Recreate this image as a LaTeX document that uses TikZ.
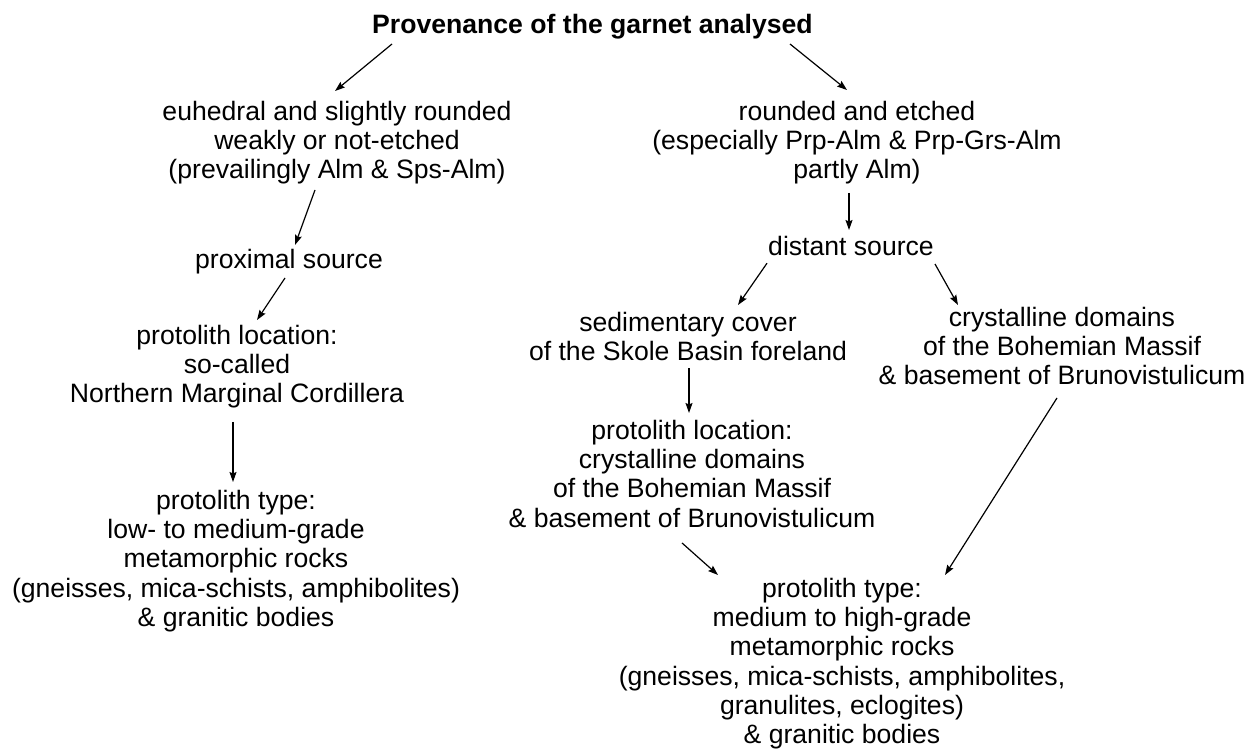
\documentclass[tikz,border=0pt]{standalone}
\usepackage{fontspec}
\setmainfont{Liberation Sans}
\usetikzlibrary{arrows.meta}
\begin{document}
\begin{tikzpicture}[x=1pt, y=-1pt, >={Stealth[length=10pt,width=7pt,inset=1.5pt]}, line width=1.2pt,
  txt/.style={align=center, inner sep=0pt, anchor=north, font=\fontsize{26.6}{29.3}\selectfont, execute at begin node=\strut, execute at end node=\strut},
  arr/.style={->}]
\useasboundingbox (0,0) rectangle (1249,749);
% title
\node[txt, font=\fontsize{26.6}{29.3}\selectfont\bfseries] (title) at (592.5,12.5) {Provenance of the garnet analysed};
% left branch
\node[txt] (euh) at (337,100.5) {euhedral and slightly rounded\\weakly or not-etched\\(prevailingly Alm \& Sps-Alm)};
\node[txt] (prox) at (289,247.5) {proximal source};
\node[txt] (locL) at (237,324.5) {protolith location:\\so-called\\Northern Marginal Cordillera};
\node[txt] (typeL) at (236,489.5) {protolith type:\\low- to medium-grade\\metamorphic rocks\\(gneisses, mica-schists, amphibolites)\\\& granitic bodies};
% right branch
\node[txt] (rnd) at (857,100.5) {rounded and etched\\(especially Prp-Alm \& Prp-Grs-Alm\\partly Alm)};
\node[txt] (dist) at (851,234.5) {distant source};
\node[txt] (sed) at (688,311.5) {sedimentary cover\\of the Skole Basin foreland};
\node[txt] (crysR) at (1062,306.5) {crystalline domains\\of the Bohemian Massif\\\& basement of Brunovistulicum};
\node[txt] (locM) at (692,419.5) {protolith location:\\crystalline domains\\of the Bohemian Massif\\\& basement of Brunovistulicum};
\node[txt] (typeR) at (842,577.5) {protolith type:\\medium to high-grade\\metamorphic rocks\\(gneisses, mica-schists, amphibolites,\\granulites, eclogites)\\\& granitic bodies};
% arrows
\draw[arr] ([xshift=-200.5pt,yshift=-1pt]title.south) -- ([xshift=-2pt,yshift=9.5pt]euh.north);
\draw[arr] ([xshift=197.5pt,yshift=-1pt]title.south) -- ([xshift=-10pt,yshift=10.5pt]rnd.north);
\draw[arr] ([xshift=-22pt,yshift=-1.6pt]euh.south) -- ([xshift=6pt,yshift=2.5pt]prox.north);
\draw[arr] ([xshift=-8pt,yshift=-4.6pt]rnd.south) -- ([xshift=-2pt,yshift=4.5pt]dist.north);
\draw[arr] ([xshift=-4pt]prox.south) -- ([xshift=20pt,yshift=4.5pt]locL.north);
\draw[arr] ([xshift=-4pt,yshift=-9.6pt]locL.south) -- ([xshift=-3pt,yshift=7.5pt]typeL.north);
\draw[arr] ([xshift=-84pt,yshift=1.8pt]dist.south) -- ([xshift=50pt,yshift=6.5pt]sed.north);
\draw[arr] ([xshift=84pt,yshift=1pt]dist.south) -- ([xshift=-104pt,yshift=1.5pt]crysR.north);
\draw[arr] ([xshift=1pt,yshift=2pt]sed.south) -- ([xshift=-3pt,yshift=6.5pt]locM.north);
\draw[arr] ([xshift=-10pt,yshift=-6.3pt]locM.south) -- ([xshift=-124pt,yshift=2.5pt]typeR.north);
\draw[arr] ([xshift=-5pt,yshift=-3.6pt]crysR.south) -- ([xshift=103pt,yshift=2.5pt]typeR.north);
\end{tikzpicture}
\end{document}
